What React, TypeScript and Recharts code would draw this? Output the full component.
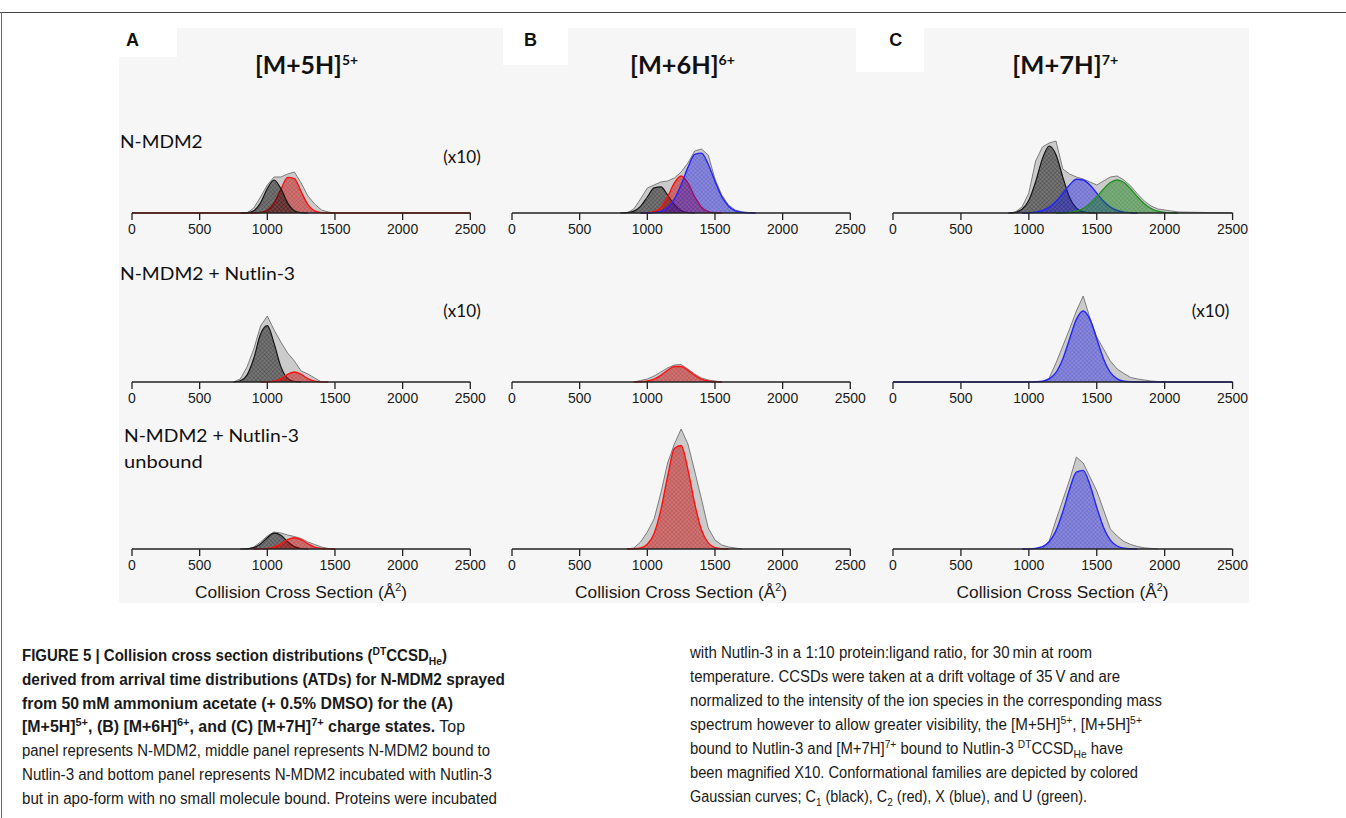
import React from "react";
import { AreaChart, Area, XAxis, YAxis } from "recharts";

// collision cross section grid (Å²) shared by every panel
const ccsGrid = [0, 750, 800, 850, 900, 950, 1000, 1050, 1100, 1150, 1200, 1250, 1300, 1350, 1400, 1450, 1500, 1550, 1600, 1650, 1700, 1750, 1800, 1850, 1900, 1950, 2000, 2050, 2100, 2500];
const ccsTicks = [0, 500, 1000, 1500, 2000, 2500];
const _ = null;

// [M+5H]5+ (A)
const a1Total = [_, _, _, 0, 5, 16, 28, 36, 36, 39, 41, 30, 17, 9, 3, 1, 0, _, _, _, _, _, _, _, _, _, _, _, _, _];
const a1C1 = [_, _, 0, 0.3, 2.3, 10.1, 24.5, 33, 24.5, 10.1, 2.3, 0.3, 0, _, _, _, _, _, _, _, _, _, _, _, _, _, _, _, _, _];
const a1C2 = [0, 0, 0, 0, 0.05, 0.5, 2.7, 10.1, 23.6, 35.6, 34.3, 21.2, 8.4, 2.1, 0.35, 0.05, 0, 0, 0, 0, 0, 0, 0, 0, 0, 0, 0, 0, 0, 0];
const a2Total = [_, 0, 3, 15, 33, 56, 66, 52, 40, 29, 21, 11, 8, 4, 0, _, _, _, _, _, _, _, _, _, _, _, _, _, _, _];
const a2C1 = [_, 0, 1.2, 6.9, 23.7, 47.9, 56.4, 38.6, 15.4, 3.6, 0.5, 0, _, _, _, _, _, _, _, _, _, _, _, _, _, _, _, _, _, _];
const a2C2 = [_, _, _, _, _, 0, 0.1, 0.9, 3.4, 7.6, 10, 7.6, 3.4, 0.9, 0.1, 0, _, _, _, _, _, _, _, _, _, _, _, _, _, _];
const a3Total = [_, _, _, 0, 2, 7, 13, 17, 16, 14, 12.5, 10.5, 7, 4.5, 2, 0.5, 0, _, _, _, _, _, _, _, _, _, _, _, _, _];
const a3C1 = [_, _, 0, 0.2, 1.4, 5, 11.3, 15.8, 13.7, 7.3, 2.4, 0.5, 0, _, _, _, _, _, _, _, _, _, _, _, _, _, _, _, _, _];
const a3C2 = [_, _, _, _, 0, 0.1, 0.5, 1.9, 5.2, 9.3, 11.3, 9.3, 5.2, 1.9, 0.5, 0.1, 0, _, _, _, _, _, _, _, _, _, _, _, _, _];

// [M+6H]6+ (B)
const b1Total = [_, _, _, 0, 4, 14, 25, 28, 31, 32, 35, 41, 50, 62, 64, 58, 34, 18, 8, 3, 1.2, 0.5, 0, _, _, _, _, _, _, _];
const b1C1 = [_, _, 0, 0.35, 1.9, 6.7, 16, 25.1, 26.1, 18, 8.3, 2.5, 0.5, 0, _, _, _, _, _, _, _, _, _, _, _, _, _, _, _, _];
const b1C2 = [_, _, _, _, _, 0, 0.2, 1.4, 5.8, 16.3, 30.1, 37, 30.1, 16.3, 5.8, 1.4, 0.2, 0, _, _, _, _, _, _, _, _, _, _, _, _];
const b1X = [_, _, _, _, _, 0, 0.1, 0.4, 1.7, 5.5, 14, 28.3, 45.6, 58.6, 59.9, 48.8, 31.7, 16.4, 6.8, 2.2, 0.6, 0.1, 0, _, _, _, _, _, _, _];
const b2Total = [_, _, _, _, 0, 1.5, 3, 6, 10, 14, 17, 17.5, 13, 8, 4, 2, 1, 0, _, _, _, _, _, _, _, _, _, _, _, _];
const b2C2 = [_, _, _, _, 0, 0.2, 1, 2.9, 6.7, 11.7, 15.5, 15.5, 11.7, 6.7, 2.9, 1, 0.2, 0, _, _, _, _, _, _, _, _, _, _, _, _];
const b3Total = [_, _, _, 0, 1, 7, 17, 30, 56, 86, 105, 120, 105, 78, 50, 21, 9, 4, 2, 1, 0, _, _, _, _, _, _, _, _, _];
const b3C2 = [_, _, _, 0, 0.2, 1, 4.7, 15.6, 39.1, 72.6, 100.5, 103.5, 79.4, 45.3, 19.2, 6.1, 1.4, 0.3, 0, _, _, _, _, _, _, _, _, _, _, _];

// [M+7H]7+ (C)
const c1Total = [_, _, _, 0, 1, 6, 20, 52, 66, 70, 72, 44, 39, 36, 34, 31, 28, 32, 36, 37, 33, 27, 19, 12, 7, 4, 3, 2, 1, 0];
const c1C1 = [_, _, _, 0, 0.7, 3.7, 12.7, 31.2, 54.4, 67, 58.2, 35.9, 15.6, 4.8, 1.1, 0.2, 0, _, _, _, _, _, _, _, _, _, _, _, _, _];
const c1X = [_, _, _, _, _, 0, 0.3, 0.9, 2.5, 5.9, 11.7, 19.8, 28, 33.8, 33, 28, 19.8, 11.7, 5.9, 2.5, 0.9, 0.3, 0, _, _, _, _, _, _, _];
const c1U = [_, _, _, _, _, _, _, _, _, _, 0, 0.2, 0.7, 1.8, 4.5, 9.2, 16.1, 24, 30.5, 33, 30.5, 24, 16.1, 9.2, 4.5, 1.8, 0.7, 0.2, 0, _];
const c2Total = [_, _, _, _, _, _, _, _, 0, 4, 19, 36, 53, 71, 86, 64, 45, 33, 21, 13, 8.5, 4.5, 3, 2, 1, 0.5, 0, _, _, _];
const c2X = [0, 0, 0, 0, 0, 0, 0, 0.2, 0.8, 3.1, 9.6, 23.1, 43.1, 62.6, 71, 62.6, 43.1, 23.1, 9.6, 3.1, 0.8, 0.2, 0, 0, 0, 0, 0, 0, 0, 0];
const c3Total = [_, _, _, _, _, _, _, _, 0, 8, 29, 49, 69, 92, 86, 72, 58, 39, 20, 13, 7.5, 4.5, 2.5, 1.2, 0.6, 0, _, _, _, _];
const c3X = [_, _, _, _, _, 0, 0.1, 0.6, 2.3, 7.3, 18.4, 37.2, 59.8, 76.8, 78.6, 64.1, 41.6, 21.6, 8.9, 3, 0.8, 0.2, 0, _, _, _, _, _, _, _];

type Val = number | null;
type CompKey = "c1" | "c2" | "x" | "u";

const PLOT_H = 130;
const AXIS_H = 30;
const PAD_L = 16;
const PAD_R = 22;
const colX0 = [131.7, 512, 892.7];
const colW = [338.3, 338.3, 339.6];
const rowBase = [213.3, 381.6, 548.6];

const ARIAL = "'Liberation Sans', Arial, Helvetica, sans-serif";
const CAL = "Lato, 'Open Sans', sans-serif";

const compStyle: Record<CompKey, { stroke: string; fill: string; width: number }> = {
  c1: { stroke: "#141414", fill: "url(#hatch-c1)", width: 1.2 },
  c2: { stroke: "#ff1010", fill: "url(#hatch-c2)", width: 1.4 },
  x: { stroke: "#2424ff", fill: "url(#hatch-x)", width: 1.4 },
  u: { stroke: "#1f8f1f", fill: "url(#hatch-u)", width: 1.3 },
};

interface PanelDef {
  col: number;
  row: number;
  total: Val[];
  comps: { key: CompKey; values: Val[] }[];
}

const panels: PanelDef[] = [
  { col: 0, row: 0, total: a1Total, comps: [{ key: "c2", values: a1C2 }, { key: "c1", values: a1C1 }] },
  { col: 1, row: 0, total: b1Total, comps: [{ key: "c1", values: b1C1 }, { key: "c2", values: b1C2 }, { key: "x", values: b1X }] },
  { col: 2, row: 0, total: c1Total, comps: [{ key: "c1", values: c1C1 }, { key: "x", values: c1X }, { key: "u", values: c1U }] },
  { col: 0, row: 1, total: a2Total, comps: [{ key: "c1", values: a2C1 }, { key: "c2", values: a2C2 }] },
  { col: 1, row: 1, total: b2Total, comps: [{ key: "c2", values: b2C2 }] },
  { col: 2, row: 1, total: c2Total, comps: [{ key: "x", values: c2X }] },
  { col: 0, row: 2, total: a3Total, comps: [{ key: "c1", values: a3C1 }, { key: "c2", values: a3C2 }] },
  { col: 1, row: 2, total: b3Total, comps: [{ key: "c2", values: b3C2 }] },
  { col: 2, row: 2, total: c3Total, comps: [{ key: "x", values: c3X }] },
];

function Hatch({ id, color, opacity }: { id: string; color: string; opacity: number }) {
  return (
    <pattern id={id} width={3} height={3} patternUnits="userSpaceOnUse" patternTransform="rotate(45)">
      <rect width={3} height={3} fill={color} fillOpacity={opacity} />
      <path d="M0 0.5H3M0.5 0V3" stroke={color} strokeOpacity={opacity * 0.5} strokeWidth={0.8} />
    </pattern>
  );
}

function Panel({ p }: { p: PanelDef }) {
  const rows = ccsGrid.map((ccs, i) => {
    const r: Record<string, Val> = { ccs, total: p.total[i] };
    p.comps.forEach((c) => (r[c.key] = c.values[i]));
    return r;
  });
  const w = colW[p.col];
  return (
    <div style={{ position: "absolute", left: colX0[p.col] - PAD_L, top: rowBase[p.row] - PLOT_H }}>
      <AreaChart width={w + PAD_L + PAD_R} height={PLOT_H + AXIS_H} data={rows} margin={{ top: 0, right: PAD_R, bottom: 0, left: PAD_L }}>
        <XAxis
          dataKey="ccs"
          type="number"
          domain={[0, 2500]}
          ticks={ccsTicks}
          interval={0}
          height={AXIS_H}
          tickSize={7}
          tickMargin={4}
          axisLine={{ stroke: "#222", strokeWidth: 1.5 }}
          tickLine={{ stroke: "#222", strokeWidth: 1.3 }}
          tick={{ fontSize: 14, fill: "#1a1a1a", fontFamily: ARIAL }}
        />
        <YAxis hide domain={[0, PLOT_H]} />
        <Area
          type="linear"
          dataKey="total"
          stroke="#707070"
          strokeWidth={0.9}
          fill="#cbcbcb"
          fillOpacity={1}
          dot={false}
          activeDot={false}
          isAnimationActive={false}
        />
        {p.comps.map((c) => (
          <Area
            key={c.key}
            type="monotone"
            dataKey={c.key}
            stroke={compStyle[c.key].stroke}
            strokeWidth={compStyle[c.key].width}
            fill={compStyle[c.key].fill}
            fillOpacity={1}
            dot={false}
            activeDot={false}
            isAnimationActive={false}
          />
        ))}
      </AreaChart>
    </div>
  );
}

type Seg = { t: string; b?: boolean; s?: "sup" | "sub" };

const captionLeft: { end: number; segs: Seg[] }[] = [
  { end: 447, segs: [{ t: "FIGURE 5 | Collision cross section distributions (", b: true }, { t: "DT", b: true, s: "sup" }, { t: "CCSD", b: true }, { t: "He", b: true, s: "sub" }, { t: ")", b: true }] },
  { end: 505, segs: [{ t: "derived from arrival time distributions (ATDs) for N-MDM2 sprayed", b: true }] },
  { end: 453, segs: [{ t: "from 50\u2009mM ammonium acetate (+ 0.5% DMSO) for the (A)", b: true }] },
  { end: 465, segs: [{ t: "[M+5H]", b: true }, { t: "5+", b: true, s: "sup" }, { t: ", (B) [M+6H]", b: true }, { t: "6+", b: true, s: "sup" }, { t: ", and (C) [M+7H]", b: true }, { t: "7+", b: true, s: "sup" }, { t: " charge states.", b: true }, { t: " Top" }] },
  { end: 490, segs: [{ t: "panel represents N-MDM2, middle panel represents N-MDM2 bound to" }] },
  { end: 492, segs: [{ t: "Nutlin-3 and bottom panel represents N-MDM2 incubated with Nutlin-3" }] },
  { end: 497, segs: [{ t: "but in apo-form with no small molecule bound. Proteins were incubated" }] },
];

const captionRight: { end: number; segs: Seg[] }[] = [
  { end: 1092, segs: [{ t: "with Nutlin-3 in a 1:10 protein:ligand ratio, for 30\u2009min at room" }] },
  { end: 1120, segs: [{ t: "temperature. CCSDs were taken at a drift voltage of 35\u2009V and are" }] },
  { end: 1162, segs: [{ t: "normalized to the intensity of the ion species in the corresponding mass" }] },
  { end: 1142, segs: [{ t: "spectrum however to allow greater visibility, the [M+5H]" }, { t: "5+", s: "sup" }, { t: ", [M+5H]" }, { t: "5+", s: "sup" }] },
  { end: 1123, segs: [{ t: "bound to Nutlin-3 and [M+7H]" }, { t: "7+", s: "sup" }, { t: " bound to Nutlin-3 " }, { t: "DT", s: "sup" }, { t: "CCSD" }, { t: "He", s: "sub" }, { t: " have" }] },
  { end: 1138, segs: [{ t: "been magnified X10. Conformational families are depicted by colored" }] },
  { end: 1087, segs: [{ t: "Gaussian curves; C" }, { t: "1", s: "sub" }, { t: " (black), C" }, { t: "2", s: "sub" }, { t: " (red), X (blue), and U (green)." }] },
];

function CaptionLine({ x, y, end, segs }: { x: number; y: number; end: number; segs: Seg[] }) {
  let shift = 0;
  return (
    <text x={x} y={y} textLength={end - x} lengthAdjust="spacingAndGlyphs" fontFamily={ARIAL} fontSize={16} fill="#1a1a1a" style={{ whiteSpace: "pre" }}>
      {segs.map((s, i) => {
        const target = s.s === "sup" ? -6 : s.s === "sub" ? 4 : 0;
        const dy = target - shift;
        shift = target;
        return (
          <tspan key={i} dy={dy} fontWeight={s.b ? 700 : 400} fontSize={s.s ? 11 : 16}>
            {s.t}
          </tspan>
        );
      })}
    </text>
  );
}

function Title({ x, end, base, sup }: { x: number; end: number; base: string; sup: string }) {
  return (
    <text x={x} y={74} textLength={end - x} lengthAdjust="spacingAndGlyphs" fontFamily={CAL} fontWeight={700} fontSize={25} fill="#111">
      {base}
      <tspan fontSize={14} dy={-9}>{sup}</tspan>
    </text>
  );
}

function Label({ x, y, w, text, size = 17.5 }: { x: number; y: number; w: number; text: string; size?: number }) {
  return (
    <text x={x} y={y} textLength={w} lengthAdjust="spacingAndGlyphs" fontFamily={CAL} fontSize={size} fill="#111">
      {text}
    </text>
  );
}

function AxisTitle({ x }: { x: number }) {
  return (
    <text x={x} y={597.5} textLength={212} lengthAdjust="spacingAndGlyphs" fontFamily={ARIAL} fontSize={16} fill="#1a1a1a">
      Collision Cross Section (Å<tspan fontSize={10} dy={-7}>2</tspan>
      <tspan dy={7}>)</tspan>
    </text>
  );
}

export default function App() {
  return (
    <div style={{ position: "absolute", left: 0, top: 0, width: 1346, height: 818, background: "#fff", overflow: "hidden" }}>
      <svg width={0} height={0} style={{ position: "absolute" }}>
        <defs>
          <Hatch id="hatch-c1" color="#000000" opacity={0.42} />
          <Hatch id="hatch-c2" color="#c40000" opacity={0.42} />
          <Hatch id="hatch-x" color="#1414e6" opacity={0.36} />
          <Hatch id="hatch-u" color="#0a7a0a" opacity={0.4} />
        </defs>
      </svg>

      {/* frame and figure background */}
      <div style={{ position: "absolute", left: 0, top: 12, width: 1346, height: 1, background: "#444" }} />
      <div style={{ position: "absolute", left: 1, top: 12, width: 1, height: 806, background: "#666" }} />
      <div style={{ position: "absolute", left: 119, top: 28, width: 1130, height: 575, background: "#f6f6f6" }} />
      <div style={{ position: "absolute", left: 119, top: 28, width: 58, height: 29, background: "#fff" }} />
      <div style={{ position: "absolute", left: 503, top: 28, width: 65, height: 37, background: "#fff" }} />
      <div style={{ position: "absolute", left: 856, top: 28, width: 68, height: 44, background: "#fff" }} />

      {panels.map((p, i) => (
        <Panel key={i} p={p} />
      ))}

      <svg width={1346} height={818} style={{ position: "absolute", left: 0, top: 0, pointerEvents: "none" }}>
        <text x={126} y={46} fontFamily={ARIAL} fontWeight={700} fontSize={18} fill="#111">A</text>
        <text x={524} y={46} fontFamily={ARIAL} fontWeight={700} fontSize={18} fill="#111">B</text>
        <text x={889.3} y={46} fontFamily={ARIAL} fontWeight={700} fontSize={18} fill="#111">C</text>

        <Title x={255} end={358} base="[M+5H]" sup="5+" />
        <Title x={630} end={735} base="[M+6H]" sup="6+" />
        <Title x={1012.3} end={1118.3} base="[M+7H]" sup="7+" />

        <Label x={120} y={147.7} w={82.7} text="N-MDM2" />
        <Label x={120} y={280} w={175} text="N-MDM2 + Nutlin-3" />
        <Label x={124} y={441.7} w={175} text="N-MDM2 + Nutlin-3" />
        <Label x={124} y={467.7} w={78.7} text="unbound" />

        <Label x={443.3} y={163.3} w={37.4} text="(x10)" />
        <Label x={443.3} y={316.7} w={37.4} text="(x10)" />
        <Label x={1191.7} y={316.7} w={37.6} text="(x10)" />

        <AxisTitle x={195} />
        <AxisTitle x={575} />
        <AxisTitle x={956.5} />

        {captionLeft.map((l, i) => (
          <CaptionLine key={"l" + i} x={22} y={661 + i * 23.8} end={l.end} segs={l.segs} />
        ))}
        {captionRight.map((l, i) => (
          <CaptionLine key={"r" + i} x={690} y={658 + i * 24} end={l.end} segs={l.segs} />
        ))}
      </svg>
    </div>
  );
}
